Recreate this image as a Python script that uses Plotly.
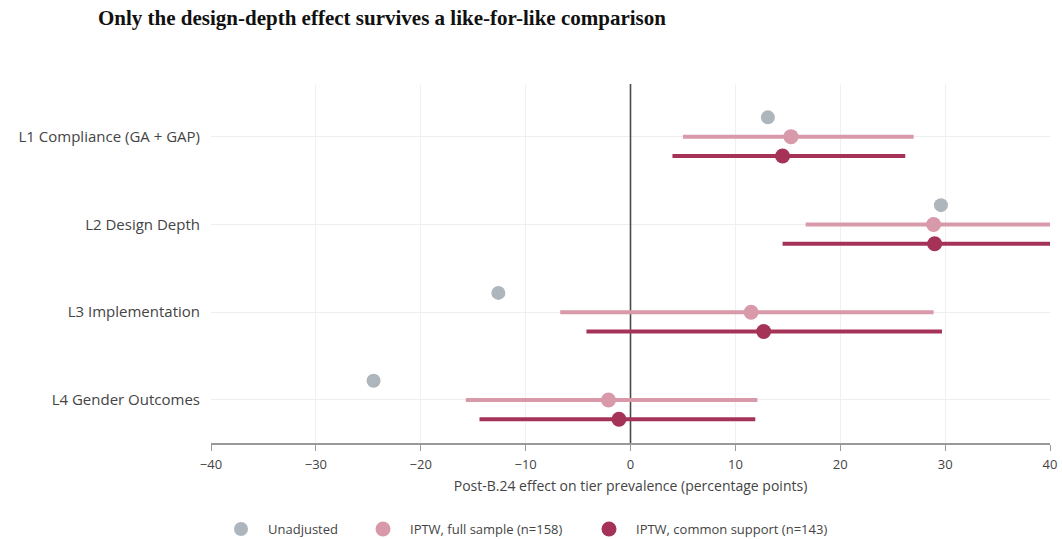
import plotly.graph_objects as go

categories = ["L1 Compliance (GA + GAP)", "L2 Design Depth", "L3 Implementation", "L4 Gender Outcomes"]
unadjusted = [13.1, 29.6, -12.6, -24.5]
full_est = [15.3, 28.9, 11.5, -2.1]
full_lo = [5.0, 16.7, -6.7, -15.7]
full_hi = [27.0, 41.5, 28.9, 12.1]
cs_est = [14.5, 29.0, 12.7, -1.1]
cs_lo = [4.0, 14.5, -4.2, -14.4]
cs_hi = [26.2, 43.5, 29.7, 11.9]
x_ticks = [-40, -30, -20, -10, 0, 10, 20, 30, 40]
series_names = ["Unadjusted", "IPTW, full sample (n=158)", "IPTW, common support (n=143)"]

c_un = "#adb5bd"
c_full = "#d899aa"
c_cs = "#a53358"
off = 0.22
ypos = list(range(len(categories)))

W, H = 1062, 539
PL, PR, PT, PB = 211, 12, 84, 96
plot_w = W - PL - PR
plot_h = H - PT - PB

fig = go.Figure()

def segs(lo, hi, dy):
    xs, ys = [], []
    for i, (a, b) in enumerate(zip(lo, hi)):
        xs += [a, b, None]
        ys += [i + dy, i + dy, None]
    return xs, ys

# zero line
fig.add_trace(go.Scatter(x=[0, 0], y=[-0.7, 3.6], mode="lines",
                         line=dict(color="#4a4a4a", width=1.6), showlegend=False, hoverinfo="skip"))

xs, ys = segs(full_lo, full_hi, 0)
fig.add_trace(go.Scatter(x=xs, y=ys, mode="lines", line=dict(color=c_full, width=4),
                         showlegend=False, hoverinfo="skip"))
xs, ys = segs(cs_lo, cs_hi, off)
fig.add_trace(go.Scatter(x=xs, y=ys, mode="lines", line=dict(color=c_cs, width=4),
                         showlegend=False, hoverinfo="skip"))

fig.add_trace(go.Scatter(x=unadjusted, y=[y - off for y in ypos], mode="markers",
                         marker=dict(color=c_un, size=14), name=series_names[0], legend="legend"))
fig.add_trace(go.Scatter(x=full_est, y=ypos, mode="markers",
                         marker=dict(color=c_full, size=15), name=series_names[1], legend="legend2"))
fig.add_trace(go.Scatter(x=cs_est, y=[y + off for y in ypos], mode="markers",
                         marker=dict(color=c_cs, size=15), name=series_names[2], legend="legend3"))

font_fam = "'Open Sans', sans-serif"
leg_y = -(529 - (H - PB)) / plot_h

def leg(xpix):
    return dict(orientation="h", x=(xpix - PL) / plot_w, xanchor="left",
                y=leg_y, yanchor="middle",
                font=dict(size=13, color="#444444"), itemwidth=44)

fig.update_layout(
    width=W, height=H,
    margin=dict(l=PL, r=PR, t=PT, b=PB, autoexpand=False),
    plot_bgcolor="white", paper_bgcolor="white",
    font=dict(family=font_fam, color="#444444", size=13),
    title=dict(text="<b>Only the design-depth effect survives a like-for-like comparison</b>",
               font=dict(family="'Liberation Serif', 'Times New Roman', serif", size=21, color="#111111"),
               xref="container", x=98 / W, xanchor="left",
               yref="container", y=1 - 10 / H, yanchor="top"),
    xaxis=dict(range=[-40, 40], tickvals=x_ticks, showgrid=True, gridcolor="#f0f0f0",
               zeroline=False, showline=True, linecolor="#999999", linewidth=1.5,
               ticks="outside", ticklen=6, tickcolor="#999999", ticklabelstandoff=3,
               tickfont=dict(size=13, color="#444444"), automargin=False,
               title=dict(text="Post-B.24 effect on tier prevalence (percentage points)",
                          font=dict(size=14, color="#444444"), standoff=9)),
    yaxis=dict(range=[3.49, -0.60], tickvals=ypos, ticktext=categories,
               showgrid=True, gridcolor="#eeeeee", zeroline=False, showline=False,
               tickfont=dict(size=15, color="#444444"), ticks="", ticklabelstandoff=10,
               automargin=False),
    legend=leg(214),
    legend2=leg(356),
    legend3=leg(582),
)

fig.write_html("out.html", config={"displayModeBar": False},
               post_script="document.body.style.margin='0';document.body.style.overflow='hidden';")
